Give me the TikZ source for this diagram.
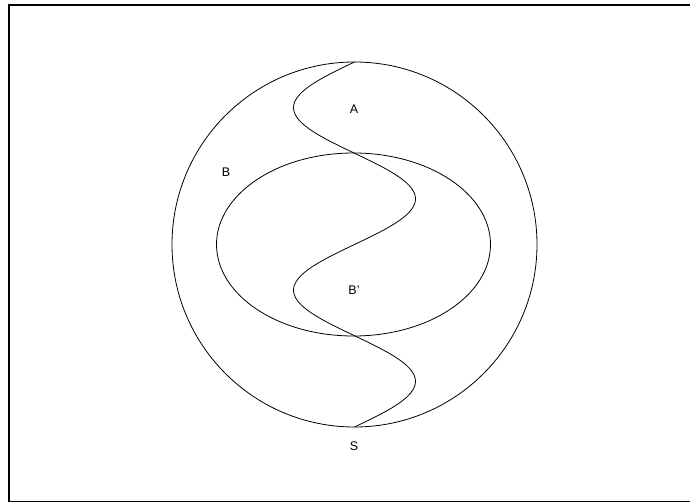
\documentclass[tikz,border=0pt]{standalone}
\usepackage{fontspec}
\setmainfont{Liberation Sans}
\begin{document}
\begin{tikzpicture}[x=1pt,y=-1pt,line width=0.8pt,
    region/.style={font=\fontsize{12.5}{14}\selectfont, inner sep=0pt}]
\useasboundingbox (0,0) rectangle (690,502);
\draw[line width=1.3pt] (9,5) rectangle (692,501.5);

\draw (354.5,244.5) circle (182.5pt);
\draw (353.5,244.5) ellipse [x radius=137pt, y radius=91.5pt];

% dividing wave from top to bottom
\draw plot[domain=62:427, samples=120, smooth] ({354.5 - 61*sin((\x-62)*1.97260)}, \x);

\node[region] (labA)  at (354,109) {A};
\node[region] (labB)  at (226,172) {B};
\node[region] (labBp) at (354,290) {B'};
\node[region] (labS)  at (354,446) {S};
\end{tikzpicture}
\end{document}
